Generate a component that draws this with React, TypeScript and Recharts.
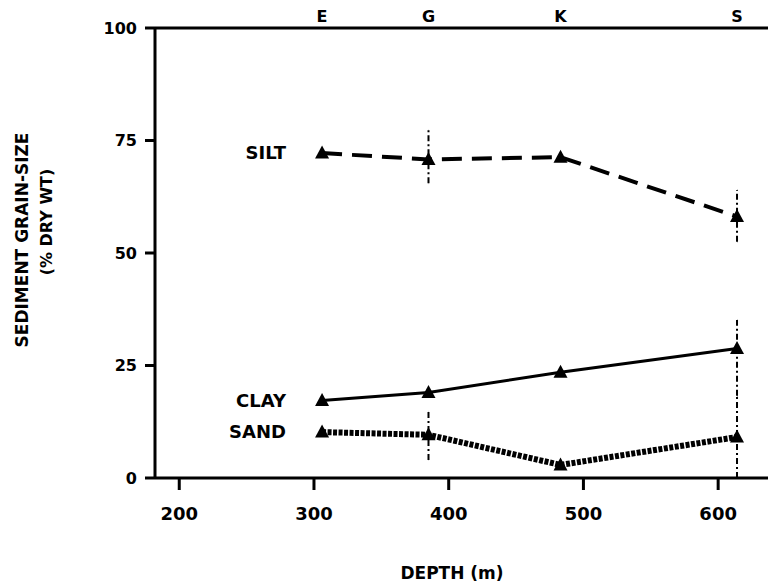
import React from 'react';
import { LineChart, Line, XAxis, YAxis, ErrorBar, ReferenceDot, Label } from 'recharts';

const stations = ['E', 'G', 'K', 'S'];
const depths = [306, 385, 483, 614];
const silt = [72.2, 70.8, 71.3, 58.1];
const clay = [17.2, 19.0, 23.5, 28.8];
const sand = [10.2, 9.6, 2.9, 9.1];
const siltErr = [[0, 0], [5.3, 6.5], [0, 0], [5.6, 5.9]];
const clayErr = [[0, 0], [0, 0], [0, 0], [10.5, 6.3]];
const sandErr = [[0, 0], [5.6, 5.1], [0, 0], [9.1, 9.1]];
const depthTicks = [200, 300, 400, 500, 600];
const pctTicks = [0, 25, 50, 75, 100];
const seriesNames = ['SILT', 'CLAY', 'SAND'];
const xTitle = 'DEPTH (m)';
const yTitle = ['SEDIMENT GRAIN-SIZE', '(% DRY WT)'];

const data = depths.map((d, i) => ({
  depth: d,
  station: stations[i],
  silt: silt[i],
  clay: clay[i],
  sand: sand[i],
  siltErr: siltErr[i],
  clayErr: clayErr[i],
  sandErr: sandErr[i],
}));

const FONT = "'DejaVu Sans', 'Liberation Sans', sans-serif";

const Triangle = (props: any) => {
  const { cx, cy, index } = props;
  if (cx == null || cy == null) return <g key={`t-${index}`} />;
  return (
    <path
      key={`t-${index}`}
      d={`M${cx},${cy - 7.5} L${cx + 7},${cy + 5.5} L${cx - 7},${cy + 5.5} Z`}
      fill="#000"
      stroke="none"
    />
  );
};

const nameLabel = (name: string) => ({
  value: name,
  position: 'left' as const,
  offset: 36,
  fill: '#000',
  fontSize: 18,
  fontWeight: 'bold',
  fontFamily: FONT,
});

const XTitle = () => (
  <text x={452} y={573} textAnchor="middle" dominantBaseline="central" fill="#000" fontSize={17} fontWeight="bold" fontFamily={FONT}>
    {xTitle}
  </text>
);

const YTitle = () => (
  <g>
    <text transform="translate(22,240) rotate(-90)" textAnchor="middle" dominantBaseline="central" fill="#000" fontSize={17} fontWeight="bold" fontFamily={FONT}>
      {yTitle[0]}
    </text>
    <text transform="translate(46,222) rotate(-90)" textAnchor="middle" dominantBaseline="central" fill="#000" fontSize={16} fontWeight="bold" fontFamily={FONT}>
      {yTitle[1]}
    </text>
  </g>
);

export default function App() {
  const tickStyle = { fill: '#000', fontWeight: 'bold', fontFamily: FONT } as any;
  return (
    <div style={{ position: 'absolute', left: 0, top: 0, width: 768, height: 586, background: '#fff' }}>
      <LineChart width={768} height={586} data={data} margin={{ top: 0, right: 0, bottom: 68, left: 0 }}>
        <XAxis
          xAxisId="top"
          orientation="top"
          type="number"
          dataKey="depth"
          domain={[182, 637]}
          allowDataOverflow
          ticks={depths}
          tickFormatter={(v: number) => stations[depths.indexOf(v)] ?? ''}
          tickLine={false}
          tickSize={6}
          tickMargin={0}
          height={28}
          axisLine={{ stroke: '#000', strokeWidth: 3 }}
          tick={{ ...tickStyle, fontSize: 16 }}
          interval={0}
        />
        <XAxis
          type="number"
          dataKey="depth"
          domain={[182, 637]}
          allowDataOverflow
          ticks={depthTicks}
          tickSize={12}
          tickMargin={17}
          height={40}
          axisLine={{ stroke: '#000', strokeWidth: 3 }}
          tickLine={{ stroke: '#000', strokeWidth: 3 }}
          tick={{ ...tickStyle, fontSize: 18 }}
          interval={0}
        >
          <Label content={<XTitle />} />
        </XAxis>
        <YAxis
          type="number"
          domain={[0, 100]}
          ticks={pctTicks}
          width={155}
          tickSize={10}
          tickMargin={8}
          axisLine={{ stroke: '#000', strokeWidth: 3 }}
          tickLine={{ stroke: '#000', strokeWidth: 3 }}
          tick={{ ...tickStyle, fontSize: 16 }}
          interval={0}
        >
          <Label content={<YTitle />} />
        </YAxis>
        <Line
          dataKey="silt"
          stroke="#000"
          strokeWidth={4}
          strokeDasharray="20 10"
          dot={Triangle}
          activeDot={false}
          isAnimationActive={false}
        >
          <ErrorBar dataKey="siltErr" width={0} stroke="#000" strokeWidth={2} strokeDasharray="6 3 2 3" direction="y" />
        </Line>
        <Line
          dataKey="clay"
          stroke="#000"
          strokeWidth={3}
          dot={Triangle}
          activeDot={false}
          isAnimationActive={false}
        >
          <ErrorBar dataKey="clayErr" width={0} stroke="#000" strokeWidth={2} strokeDasharray="6 3 2 3" direction="y" />
        </Line>
        <Line
          dataKey="sand"
          stroke="#000"
          strokeWidth={6}
          strokeDasharray="4 1.5"
          dot={Triangle}
          activeDot={false}
          isAnimationActive={false}
        >
          <ErrorBar dataKey="sandErr" width={0} stroke="#000" strokeWidth={2} strokeDasharray="6 3 2 3" direction="y" />
        </Line>
        <ReferenceDot x={depths[0]} y={silt[0]} r={0.1} fill="none" stroke="none" label={nameLabel(seriesNames[0])} />
        <ReferenceDot x={depths[0]} y={clay[0]} r={0.1} fill="none" stroke="none" label={nameLabel(seriesNames[1])} />
        <ReferenceDot x={depths[0]} y={sand[0]} r={0.1} fill="none" stroke="none" label={nameLabel(seriesNames[2])} />
      </LineChart>
    </div>
  );
}
